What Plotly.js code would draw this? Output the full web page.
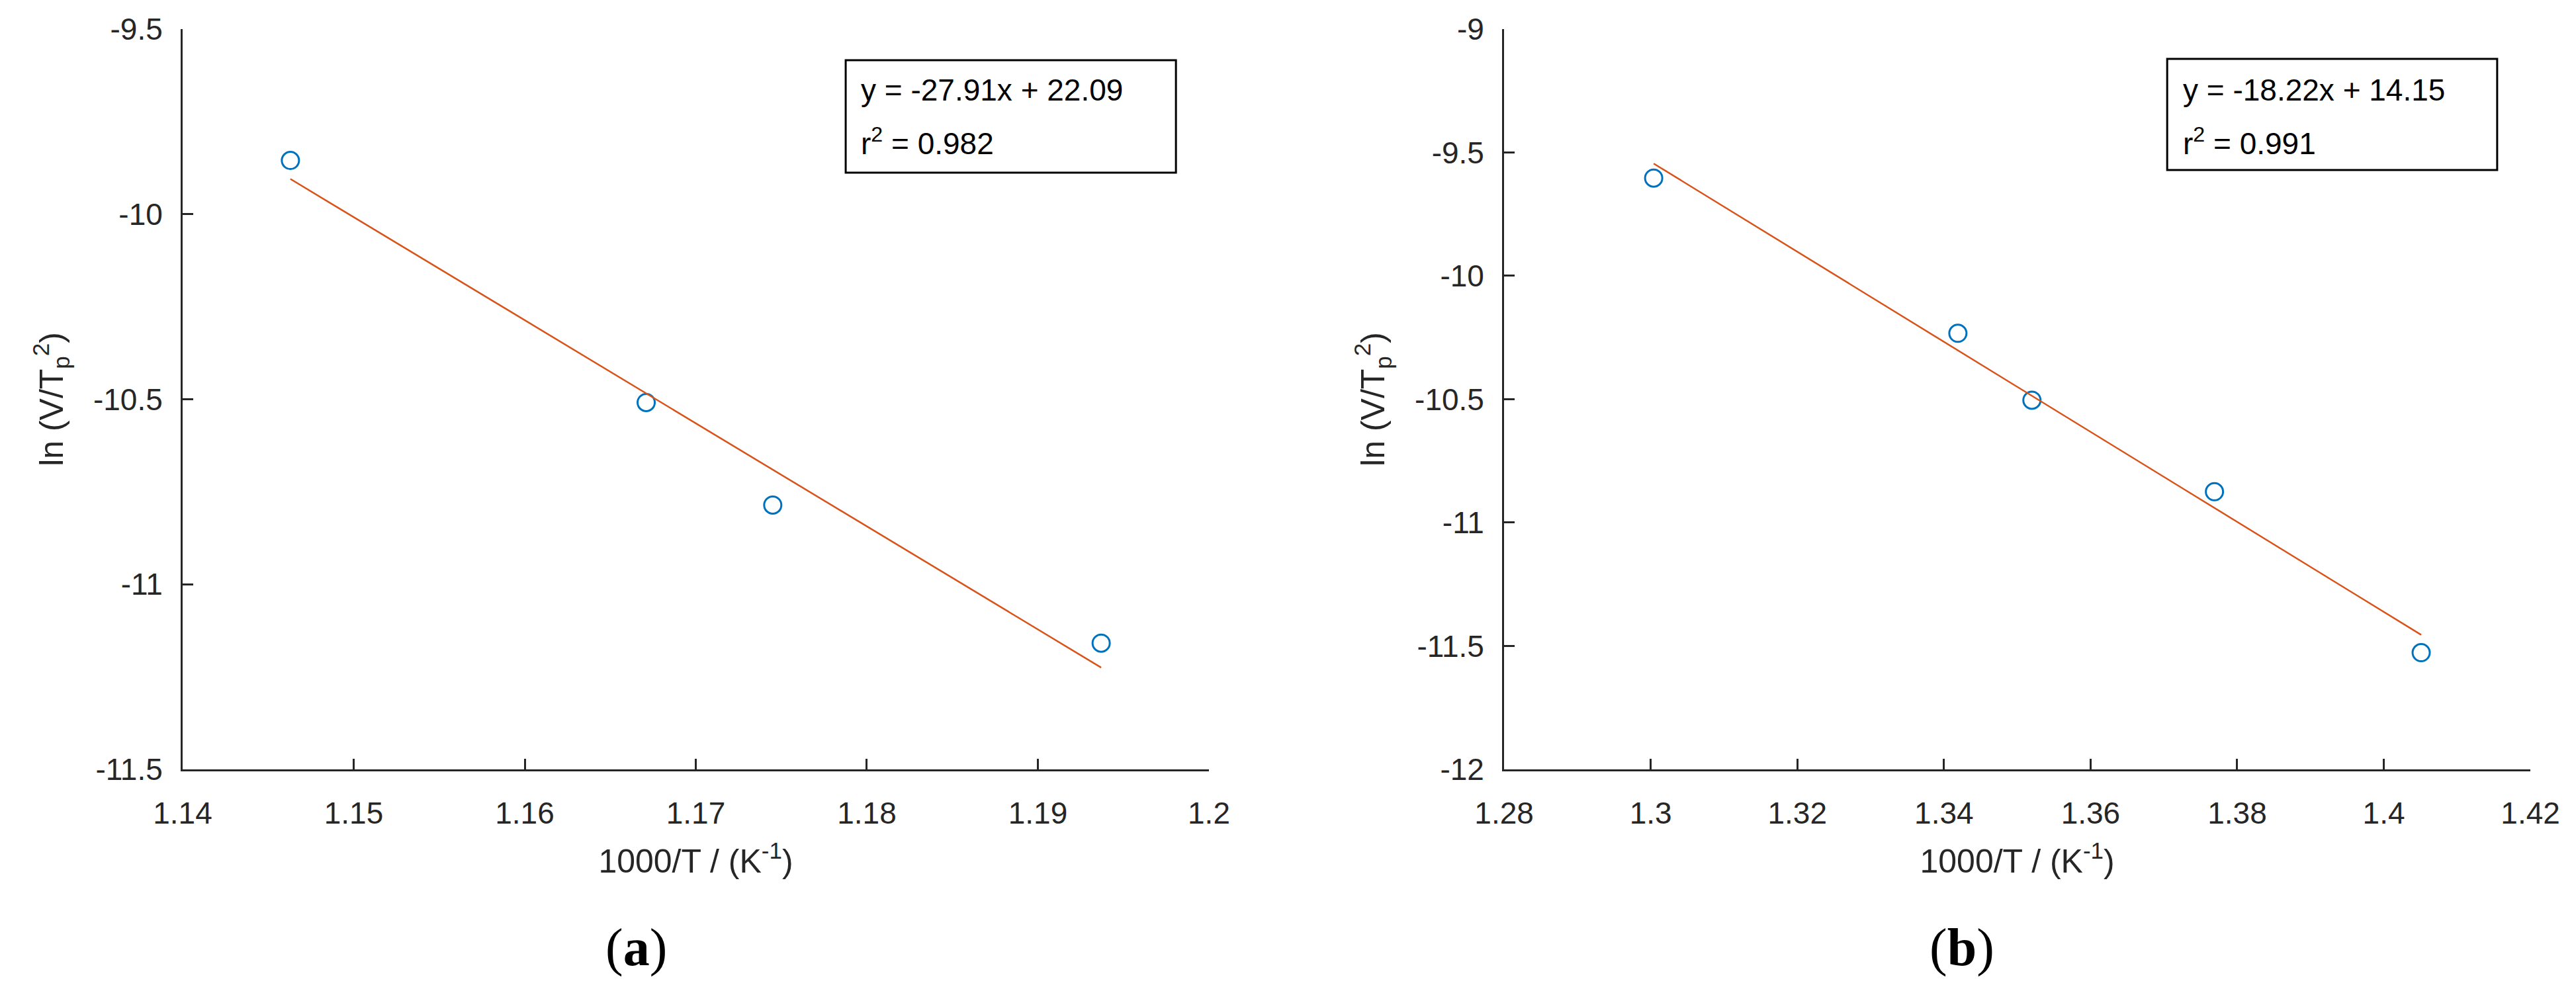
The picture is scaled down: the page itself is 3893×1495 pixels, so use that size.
<!DOCTYPE html>
<html>
<head>
<meta charset="utf-8">
<script src="https://cdn.plot.ly/plotly-3.0.1.min.js"></script>
<style>
  body { margin: 0; background: #fff; }
  #plot { width: 3893px; height: 1495px; }
</style>
</head>
<body>
<div id="plot"></div>
<script>
// panel (a)
var xA = [1.1463, 1.1671, 1.1745, 1.1937];
var yA = [-9.855, -10.509, -10.786, -11.159];
var fitXA = [1.1463, 1.1937];
var fitYA = [-9.905, -11.225];

// panel (b)
var xB = [1.3004, 1.3419, 1.3520, 1.3769, 1.4051];
var yB = [-9.604, -10.233, -10.504, -10.875, -11.527];
var fitXB = [1.3004, 1.4051];
var fitYB = [-9.545, -11.455];

// ticks
var xTicksA = [1.14, 1.15, 1.16, 1.17, 1.18, 1.19, 1.2];
var xTextA = ['1.14', '1.15', '1.16', '1.17', '1.18', '1.19', '1.2'];
var yTicksA = [-11.5, -11, -10.5, -10, -9.5];
var yTextA = ['-11.5', '-11', '-10.5', '-10', '-9.5'];
var xTicksB = [1.28, 1.30, 1.32, 1.34, 1.36, 1.38, 1.40, 1.42];
var xTextB = ['1.28', '1.3', '1.32', '1.34', '1.36', '1.38', '1.4', '1.42'];
var yTicksB = [-12, -11.5, -11, -10.5, -10, -9.5, -9];
var yTextB = ['-12', '-11.5', '-11', '-10.5', '-10', '-9.5', '-9'];

var eqA = ['y = -27.91x + 22.09', 'r<sup>2</sup> = 0.982'];
var eqB = ['y = -18.22x + 14.15', 'r<sup>2</sup> = 0.991'];

var blue = '#0072BD', orange = '#D95319', ink = '#262626';
var sans = 'Liberation Sans, Arial, sans-serif';

function pts(x, y, xa, ya) {
  return {x: x, y: y, xaxis: xa, yaxis: ya, mode: 'markers', type: 'scatter',
    marker: {symbol: 'circle-open', size: 26, color: blue, line: {width: 3, color: blue}},
    showlegend: false, hoverinfo: 'skip'};
}
function fit(x, y, xa, ya) {
  return {x: x, y: y, xaxis: xa, yaxis: ya, mode: 'lines', type: 'scatter',
    line: {color: orange, width: 2.5}, showlegend: false, hoverinfo: 'skip'};
}

var data = [
  pts(xA, yA, 'x', 'y'), fit(fitXA, fitYA, 'x', 'y'),
  pts(xB, yB, 'x2', 'y2'), fit(fitXB, fitYB, 'x2', 'y2')
];

function xax(dom, rng, vals, txt) {
  return {domain: dom, range: rng, tickvals: vals, ticktext: txt,
    showgrid: false, zeroline: false, showline: true, linewidth: 3, linecolor: ink,
    ticks: 'inside', ticklen: 16, tickwidth: 3, tickcolor: ink, ticklabelstandoff: 24,
    tickfont: {family: sans, size: 46, color: ink},
    title: {text: '1000/T / (K<sup>-1</sup>)', standoff: 30, font: {family: sans, size: 50, color: ink}}};
}
function yax(dom, rng, vals, txt, anchor) {
  return {domain: dom, range: rng, tickvals: vals, ticktext: txt, anchor: anchor,
    showgrid: false, zeroline: false, showline: true, linewidth: 3, linecolor: ink,
    ticks: 'inside', ticklen: 16, tickwidth: 3, tickcolor: ink, ticklabelstandoff: 18,
    tickfont: {family: sans, size: 46, color: ink},
    title: {text: 'ln (V/T<sub>p</sub><sup>2</sup>)', standoff: 30, font: {family: sans, size: 50, color: ink}}};
}

var yDom = [0.2221, 0.9706];

function eqNotes(lines, x) {
  return [
    {xref: 'paper', yref: 'paper', x: x, y: 0.9090, xanchor: 'left', yanchor: 'middle',
     text: lines[0], showarrow: false, font: {family: sans, size: 46, color: '#000'}},
    {xref: 'paper', yref: 'paper', x: x, y: 0.8570, xanchor: 'left', yanchor: 'middle',
     text: lines[1], showarrow: false, font: {family: sans, size: 46, color: '#000'}}
  ];
}

var layout = {
  width: 3893, height: 1495,
  margin: {l: 0, r: 0, t: 0, b: 0},
  paper_bgcolor: '#fff', plot_bgcolor: '#fff',
  xaxis: xax([0.0709, 0.4693], [1.14, 1.2], xTicksA, xTextA),
  yaxis: yax(yDom, [-11.5, -9.5], yTicksA, yTextA, 'x'),
  xaxis2: Object.assign(xax([0.5839, 0.9823], [1.28, 1.42], xTicksB, xTextB), {anchor: 'y2'}),
  yaxis2: yax(yDom, [-12, -9], yTicksB, yTextB, 'x2'),
  shapes: [
    {type: 'rect', xref: 'paper', yref: 'paper', x0: 0.3283, x1: 0.4565, y0: 0.8254, y1: 0.9391,
     line: {color: '#000', width: 3}, fillcolor: '#fff'},
    {type: 'rect', xref: 'paper', yref: 'paper', x0: 0.8413, x1: 0.9694, y0: 0.8281, y1: 0.9405,
     line: {color: '#000', width: 3}, fillcolor: '#fff'}
  ],
  annotations: eqNotes(eqA, 0.3337).concat(eqNotes(eqB, 0.8469)).concat([
    {xref: 'paper', yref: 'paper', x: 0.2471, y: 0.0421, xanchor: 'center', yanchor: 'middle',
     text: '(<b>a</b>)', showarrow: false, font: {family: 'Liberation Serif, Times New Roman, serif', size: 80, color: '#000'}},
    {xref: 'paper', yref: 'paper', x: 0.7616, y: 0.0421, xanchor: 'center', yanchor: 'middle',
     text: '(<b>b</b>)', showarrow: false, font: {family: 'Liberation Serif, Times New Roman, serif', size: 80, color: '#000'}}
  ])
};

Plotly.newPlot('plot', data, layout, {displayModeBar: false, staticPlot: true});
</script>
</body>
</html>
